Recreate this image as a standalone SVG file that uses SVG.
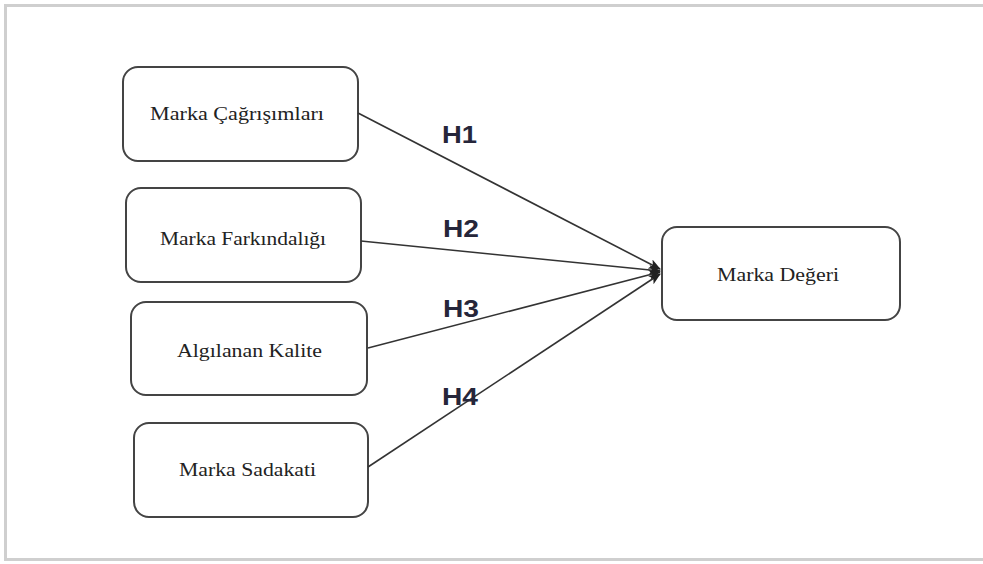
<svg xmlns="http://www.w3.org/2000/svg" width="983" height="564" viewBox="0 0 983 564">
<style>
.node rect{fill:#fff;stroke:#444;stroke-width:2}
.lbl{font-family:"Liberation Serif","Times New Roman",serif;font-size:18px;fill:#222;text-anchor:start}
.h{font-family:"Liberation Sans",Arial,sans-serif;font-weight:bold;font-size:24px;fill:#26263a}
.conn line{stroke:#333;stroke-width:1.6;marker-end:url(#arr)}
</style>
<defs>
<marker id="arr" viewBox="0 0 12 10" refX="11" refY="5" markerWidth="12" markerHeight="10" markerUnits="userSpaceOnUse" orient="auto">
<path d="M0,0 L12,5 L0,10 L3,5 Z" fill="#222"/>
</marker>
</defs>
<rect x="0" y="0" width="983" height="564" fill="#fff"/>
<rect x="5.5" y="5.5" width="1000" height="554" fill="none" stroke="#cfcfcf" stroke-width="3"/>
<g id="n1" class="node"><rect x="123" y="67" width="235" height="94" rx="15"/><text class="lbl" x="150" y="120" textLength="174" lengthAdjust="spacingAndGlyphs">Marka Çağrışımları</text></g>
<g id="n2" class="node"><rect x="126" y="188" width="235" height="94" rx="15"/><text class="lbl" x="160" y="245" textLength="166" lengthAdjust="spacingAndGlyphs">Marka Farkındalığı</text></g>
<g id="n3" class="node"><rect x="131" y="302" width="236" height="93" rx="15"/><text class="lbl" x="177" y="357" textLength="145" lengthAdjust="spacingAndGlyphs">Algılanan Kalite</text></g>
<g id="n4" class="node"><rect x="134" y="423" width="234" height="94" rx="15"/><text class="lbl" x="179" y="476" textLength="137" lengthAdjust="spacingAndGlyphs">Marka Sadakati</text></g>
<g id="n5" class="node"><rect x="662" y="227" width="238" height="93" rx="15"/><text class="lbl" x="717" y="281" textLength="122" lengthAdjust="spacingAndGlyphs">Marka Değeri</text></g>
<g id="connectors" class="conn">
<line x1="358" y1="113" x2="660" y2="269"/>
<line x1="361" y1="241" x2="660" y2="271"/>
<line x1="368" y1="348" x2="660" y2="272"/>
<line x1="368" y1="467" x2="660" y2="274"/>
</g>
<g id="labels">
<text class="h" x="442" y="143" textLength="35" lengthAdjust="spacingAndGlyphs">H1</text>
<text class="h" x="443" y="237" textLength="36" lengthAdjust="spacingAndGlyphs">H2</text>
<text class="h" x="443" y="317" textLength="36" lengthAdjust="spacingAndGlyphs">H3</text>
<text class="h" x="442" y="405" textLength="36" lengthAdjust="spacingAndGlyphs">H4</text>
</g>
</svg>
